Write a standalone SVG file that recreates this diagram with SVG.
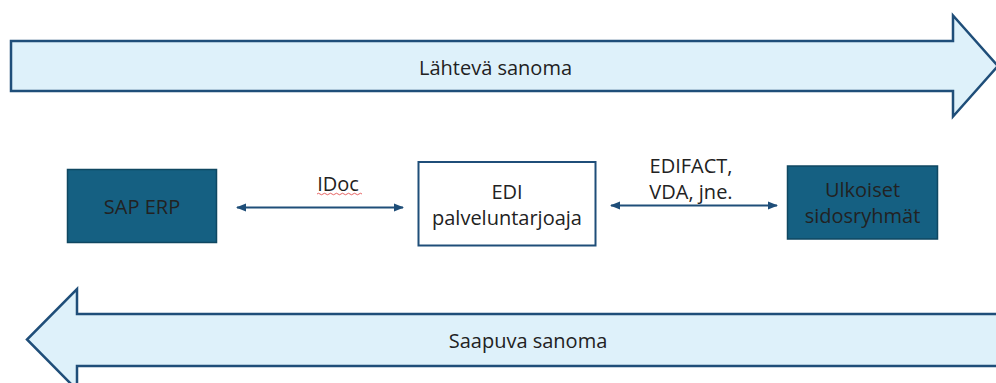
<svg xmlns="http://www.w3.org/2000/svg" width="996" height="383" viewBox="0 0 996 383">
<defs>
<marker id="ah" markerUnits="userSpaceOnUse" markerWidth="10" markerHeight="10" refX="9" refY="5" orient="auto-start-reverse" viewBox="0 0 10 10">
<path d="M0,1 L10,5 L0,9 Z" fill="#1F4E79"/>
</marker>
<style>
.big{fill:#DEF1FA;stroke:#1F4E79;stroke-width:2.5;stroke-linejoin:miter}
.t{font-family:"Open Sans","Noto Sans","Liberation Sans",sans-serif;font-size:20px;fill:#222;text-anchor:middle}
.dark{fill:#156082;stroke:#0F4761;stroke-width:1.5}
.light{fill:#FFFFFF;stroke:#1F4E79;stroke-width:2}
.conn{stroke:#1F4E79;stroke-width:2;fill:none;marker-start:url(#ah);marker-end:url(#ah)}
</style>
</defs>
<g id="outgoing">
<polygon class="big" points="11,41 953,41 953,15.5 998,66 953,116.5 953,91 11,91"/>
<text class="t" x="495.5" y="75">Lähtevä sanoma</text>
</g>
<g id="incoming">
<polygon class="big" points="1000,314 77,314 77,289 27,339.5 77,390 77,366 1000,366"/>
<text class="t" x="528" y="348">Saapuva sanoma</text>
</g>
<g id="sap">
<rect class="dark" x="67.5" y="169.5" width="149" height="73"/>
<text class="t" x="142" y="214">SAP ERP</text>
</g>
<g id="edi">
<rect class="light" x="418.5" y="162" width="177" height="83.5"/>
<text class="t" x="507" y="198.5">EDI</text>
<text class="t" x="507" y="224.5">palveluntarjoaja</text>
</g>
<g id="partners">
<rect class="dark" x="787.5" y="166" width="150" height="73"/>
<text class="t" x="862.5" y="197">Ulkoiset</text>
<text class="t" x="862.5" y="222.5">sidosryhmät</text>
</g>
<g id="connectors">
<line class="conn" x1="237" y1="207.5" x2="403" y2="207.5"/>
<text class="t" x="338" y="190.5">IDoc</text>
<path d="M317,194 q1.5,-1.5 3,0 t3,0 t3,0 t3,0 t3,0 t3,0 t3,0 t3,0 t3,0 t3,0 t3,0 t3,0 t3,0 t3,0 t3,0" fill="none" stroke="#E03C3C" stroke-width="0.8"/>
<line class="conn" x1="611" y1="205.5" x2="777" y2="205.5"/>
<text class="t" x="691" y="173">EDIFACT,</text>
<text class="t" x="691" y="199">VDA, jne.</text>
</g>
</svg>
